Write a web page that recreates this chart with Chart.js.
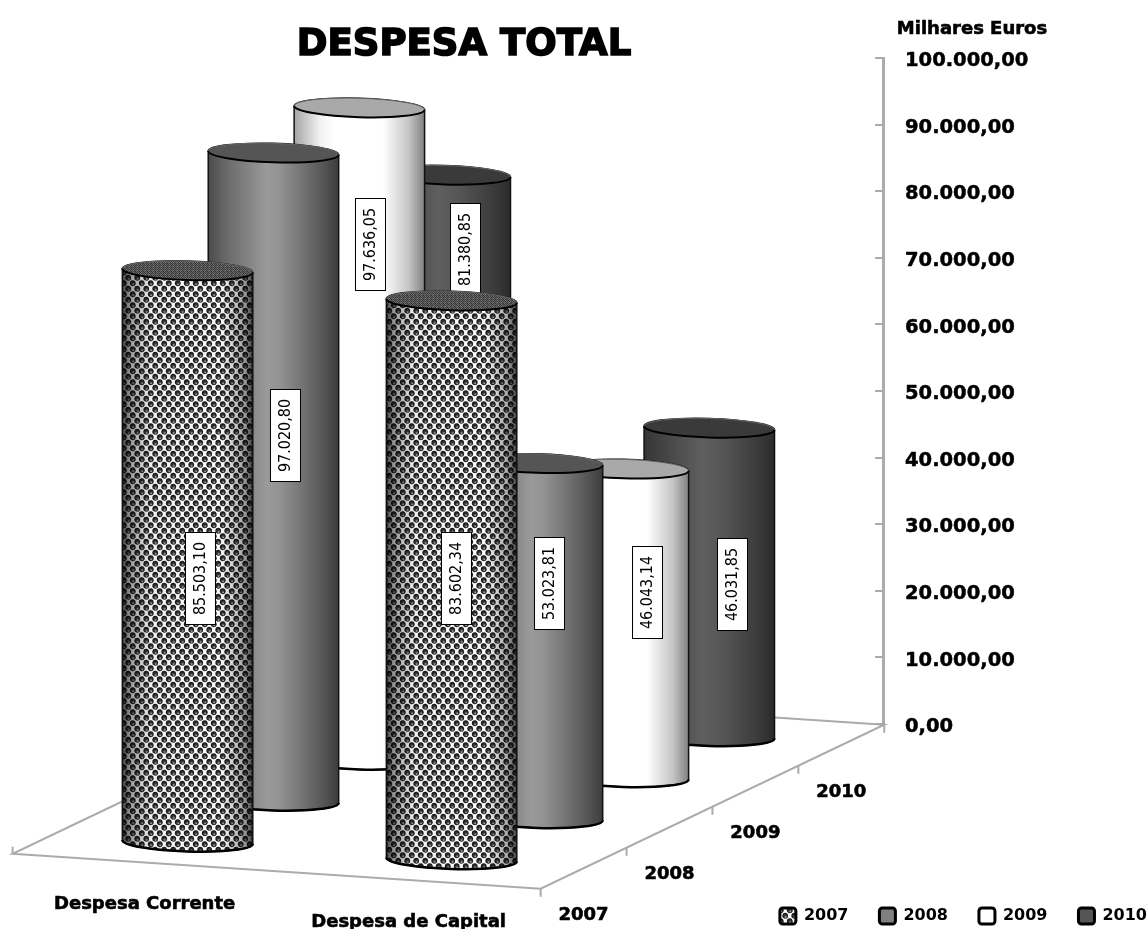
<!DOCTYPE html>
<html>
<head>
<meta charset="utf-8">
<title>Despesa Total</title>
<style>
  html, body { margin: 0; padding: 0; background: #fff; }
  canvas { display: block; }
</style>
<script src="https://cdn.jsdelivr.net/npm/chart.js@4/dist/chart.umd.min.js"></script>
</head>
<body>
<canvas id="myChart" width="1148" height="929"></canvas>
<script>
'use strict';

/** Data */
let categories = ['Despesa Corrente', 'Despesa de Capital'];
let years = ['2007', '2008', '2009', '2010'];
let values2007 = [85503.10, 83602.34];
let values2008 = [97020.80, 53023.81];
let values2009 = [97636.05, 46043.14];
let values2010 = [81380.85, 46031.85];
let allValues = [values2007, values2008, values2009, values2010];

/** Oblique projection of the floor, px per category / per year */
const FONT = '"DejaVu Sans"';
const CAT_STEP = 264;
const CAT_DROP = 17.5;
const DEPTH_X = 85.9;
const DEPTH_RISE = 41;
const FLOOR_DROP = 118;
const BAR_WIDTH = 130.5;
const TILT = 0.03;
const RIM = 9.5;
const LID_LIFT = 2;

// where each value box sits, relative to the middle of its cylinder
let labelShiftX = [[12.5, 4.5], [11.6, 11.6], [10.7, 23.7], [19.8, 22.8]];
let labelShiftY = [[22, -2.5], [-42.4, -58], [-189.4, -31], [-198.4, 1.5]];

// Number format used on the axis and the labels
function euros(v) {
  return v.toLocaleString('de-DE', { minimumFractionDigits: 2, maximumFractionDigits: 2 });
}

/** Fills */
function makeBallTile() {
  let tile = document.createElement('canvas');
  tile.width = 9;
  tile.height = 11;
  let c = tile.getContext('2d');
  c.fillStyle = '#ffffff';
  c.fillRect(0, 0, 9, 11);
  let balls = [[2.25, 2.75], [6.75, 8.25], [-2.25, 8.25], [11.25, 2.75], [2.25, 13.75], [6.75, -2.75]];
  for (let i = 0; i < balls.length; i++) {
    let g = c.createRadialGradient(balls[i][0] + 0.6, balls[i][1] + 1.5, 0.2, balls[i][0], balls[i][1], 3);
    g.addColorStop(0, '#a8a8a8');
    g.addColorStop(0.45, '#333333');
    g.addColorStop(1, '#101010');
    c.fillStyle = g;
    c.beginPath();
    c.arc(balls[i][0], balls[i][1], 2.9, 0, Math.PI * 2);
    c.fill();
  }
  return tile;
}

function makeSpeckleTile() {
  let tile = document.createElement('canvas');
  tile.width = 4;
  tile.height = 4;
  let c = tile.getContext('2d');
  let greys = ['#333', '#777', '#444', '#5c5c5c', '#666', '#2c2c2c', '#6e6e6e', '#3c3c3c',
    '#4c4c4c', '#808080', '#383838', '#606060', '#6a6a6a', '#404040', '#585858', '#303030'];
  for (let i = 0; i < 16; i++) {
    c.fillStyle = greys[i];
    c.fillRect(i % 4, Math.floor(i / 4), 1, 1);
  }
  return tile;
}

let patternCtx = document.getElementById('myChart').getContext('2d');
let ballPattern = patternCtx.createPattern(makeBallTile(), 'repeat');
let specklePattern = patternCtx.createPattern(makeSpeckleTile(), 'repeat');

let swatches = [ballPattern, '#808080', '#ffffff', '#555555'];

// side stops for each year: [position, colour]
let sideStops = [
  [[0, 'rgba(0,0,0,0.75)'], [0.06, 'rgba(0,0,0,0.4)'], [0.22, 'rgba(0,0,0,0.05)'], [0.75, 'rgba(0,0,0,0)'], [0.93, 'rgba(0,0,0,0.35)'], [1, 'rgba(0,0,0,0.75)']],
  [[0, '#4a4a4a'], [0.12, '#666666'], [0.45, '#9a9a9a'], [0.55, '#929292'], [0.85, '#5c5c5c'], [1, '#3c3c3c']],
  [[0, '#a4a4a4'], [0.2, '#f2f2f2'], [0.3, '#ffffff'], [0.68, '#ffffff'], [0.88, '#c4c4c4'], [1, '#808080']],
  [[0, '#363636'], [0.45, '#5f5f5f'], [0.6, '#565656'], [0.9, '#383838'], [1, '#2a2a2a']]
];
let capFills = [specklePattern, '#555555', '#a9a9a9', '#3a3a3a'];

/** Drawing helpers */
function sidePath(ctx, cx, topY, baseY, rx) {
  ctx.beginPath();
  ctx.ellipse(cx, baseY, rx, RIM, TILT, Math.PI, 0, true);
  ctx.ellipse(cx, topY, rx, RIM, TILT, 0, Math.PI, true);
  ctx.closePath();
}

function drawCylinder(ctx, cx, topY, baseY, rx, yearIndex) {
  let grad = ctx.createLinearGradient(cx - rx, 0, cx + rx, 0);
  sideStops[yearIndex].forEach((s) => grad.addColorStop(s[0], s[1]));

  sidePath(ctx, cx, topY, baseY, rx);
  if (yearIndex === 0) {
    ctx.fillStyle = ballPattern;
    ctx.fill();
  }
  ctx.fillStyle = grad;
  ctx.fill();

  // outline of the side, heavier along the foot
  ctx.strokeStyle = '#111';
  ctx.lineWidth = 1.5;
  sidePath(ctx, cx, topY, baseY, rx);
  ctx.stroke();
  ctx.beginPath();
  ctx.ellipse(cx, baseY, rx, RIM, TILT, Math.PI, 0, true);
  ctx.strokeStyle = '#000';
  ctx.lineWidth = 2.5;
  ctx.stroke();

  // lid
  ctx.beginPath();
  ctx.ellipse(cx, topY, rx, RIM, TILT, 0, Math.PI * 2);
  ctx.fillStyle = capFills[yearIndex];
  ctx.fill();
  ctx.strokeStyle = '#666';
  ctx.lineWidth = 1;
  ctx.stroke();
  ctx.beginPath();
  ctx.ellipse(cx, topY, rx, RIM, TILT, Math.PI, 0, true);
  ctx.strokeStyle = '#000';
  ctx.lineWidth = 2;
  ctx.stroke();
}

function drawValueBox(ctx, cx, cy, text) {
  let boxW = 30;
  let boxH = 92;
  let left = Math.round(cx - boxW / 2) + 0.5;
  let top = Math.round(cy - boxH / 2) + 0.5;
  ctx.fillStyle = '#fff';
  ctx.fillRect(left, top, boxW, boxH);
  ctx.strokeStyle = '#000';
  ctx.lineWidth = 1;
  ctx.strokeRect(left, top, boxW, boxH);

  ctx.save();
  ctx.translate(left + boxW / 2, top + boxH / 2);
  ctx.rotate(-Math.PI / 2);
  ctx.fillStyle = '#000';
  ctx.font = '16px "DejaVu Sans Condensed", ' + FONT;
  ctx.textAlign = 'center';
  ctx.textBaseline = 'middle';
  ctx.fillText(text, 0, 0);
  ctx.restore();
}

function heavyText(ctx, text, x, y, strokeWidth) {
  ctx.lineWidth = strokeWidth;
  ctx.strokeStyle = '#000';
  ctx.strokeText(text, x, y);
  ctx.fillText(text, x, y);
}

// floor point for category position c and year position z
function floorPoint(chart, c, z) {
  let xs = chart.scales.x;
  let ys = chart.scales.y;
  return {
    x: xs.getPixelForValue(c) + (z - 1.5) * DEPTH_X,
    y: ys.getPixelForValue(0) + FLOOR_DROP + c * CAT_DROP - z * DEPTH_RISE
  };
}

/** Plugin: floor, cylinders and the loose texts */
let scenePlugin = {
  id: 'scene',
  beforeDatasetsDraw(chart) {
    let ctx = chart.ctx;
    let cMin = -0.5;
    let cMax = categories.length - 0.5;
    let zMin = -0.5;
    let zMax = years.length - 0.5;
    let a = floorPoint(chart, cMin, zMin);
    let b = floorPoint(chart, cMax, zMin);
    let c = floorPoint(chart, cMax, zMax);
    let d = floorPoint(chart, cMin, zMax);

    ctx.save();
    ctx.strokeStyle = '#ababab';
    ctx.lineWidth = 2;
    ctx.beginPath();
    ctx.moveTo(d.x, d.y);
    ctx.lineTo(a.x, a.y);
    ctx.lineTo(b.x, b.y);
    ctx.lineTo(c.x, c.y);
    ctx.lineTo(d.x, d.y);
    ctx.stroke();

    // depth ticks
    for (let z = 0; z <= years.length; z++) {
      let p = floorPoint(chart, cMax, z - 0.5);
      ctx.beginPath();
      ctx.moveTo(p.x, p.y);
      ctx.lineTo(p.x, p.y + 8);
      ctx.stroke();
    }
    ctx.beginPath();
    ctx.moveTo(a.x, a.y);
    ctx.lineTo(a.x, a.y - 7);
    ctx.stroke();
    ctx.restore();
  },
  afterDatasetsDraw(chart) {
    let ctx = chart.ctx;
    let zeroY = chart.scales.y.getPixelForValue(0);
    ctx.save();

    // back row first
    for (let z = years.length - 1; z >= 0; z--) {
      let meta = chart.getDatasetMeta(z);
      meta.data.forEach((bar, c) => {
        let baseY = floorPoint(chart, c, z).y;
        let topY = baseY - (zeroY - bar.y) - LID_LIFT;
        drawCylinder(ctx, bar.x, topY, baseY, bar.width / 2, z);
        drawValueBox(ctx, bar.x + labelShiftX[z][c], (topY + baseY) / 2 + labelShiftY[z][c], euros(allValues[z][c]));
      });
    }

    // axis texts on the floor
    ctx.fillStyle = '#000';
    ctx.textAlign = 'center';
    ctx.textBaseline = 'middle';
    ctx.font = 'bold 18px ' + FONT;
    categories.forEach((name, c) => {
      let p = floorPoint(chart, c, -0.5);
      heavyText(ctx, name, p.x, p.y + 42, 0.6);
    });
    years.forEach((year, z) => {
      let p = floorPoint(chart, categories.length - 0.5, z);
      heavyText(ctx, year, p.x, p.y + 47, 0.6);
    });
    heavyText(ctx, 'Milhares Euros', 972, 29, 0.6);

    ctx.font = 'bold 37px ' + FONT;
    heavyText(ctx, 'DESPESA TOTAL', (chart.chartArea.left + chart.chartArea.right) / 2, 45, 1.6);
    ctx.restore();
  }
};

/** Chart */
let datasets = years.map((year, z) => ({
  label: year,
  data: allValues[z].map((v, c) => ({ x: c, y: v })),
  backgroundColor: 'rgba(0,0,0,0)',
  categoryPercentage: 4 * DEPTH_X / CAT_STEP,
  barPercentage: BAR_WIDTH / DEPTH_X
}));

new Chart(document.getElementById('myChart'), {
  type: 'bar',
  data: { datasets: datasets },
  plugins: [scenePlugin],
  options: {
    responsive: false,
    animation: false,
    layout: { padding: { left: 45, right: -30, top: 58, bottom: -5 } },
    plugins: {
      tooltip: { enabled: false },
      title: { display: false },
      legend: {
        position: 'bottom',
        align: 'end',
        labels: {
          boxWidth: 16,
          boxHeight: 16,
          padding: 31,
          color: '#000',
          useBorderRadius: true,
          borderRadius: 3,
          font: { family: FONT, size: 16, weight: 'bold' },
          generateLabels() {
            return years.map((year, z) => ({
              text: year,
              fillStyle: swatches[z],
              strokeStyle: '#000',
              lineWidth: 3,
              borderRadius: 3,
              datasetIndex: z
            }));
          }
        }
      }
    },
    scales: {
      x: {
        type: 'linear',
        offset: false,
        min: -1.028,
        max: 2.146,
        border: { display: false },
        grid: { display: false },
        ticks: { display: false, stepSize: 1, includeBounds: false },
        afterFit(scale) { scale.height = 153; }
      },
      y: {
        position: 'right',
        min: 0,
        max: 100000,
        border: { color: '#ababab', width: 3 },
        grid: { drawOnChartArea: false, color: '#ababab', lineWidth: 2, tickLength: -8 },
        ticks: {
          stepSize: 10000,
          crossAlign: 'near',
          padding: 30,
          color: '#000',
          textStrokeColor: '#000',
          textStrokeWidth: 0.5,
          font: { family: FONT, size: 19.5, weight: 'bold', lineHeight: 0.33 },
          // blank first line drops the text a little under its tick
          callback: (v) => ['', euros(v)]
        },
        afterFit(scale) { scale.width = 295; }
      }
    }
  }
});
</script>
</body>
</html>
